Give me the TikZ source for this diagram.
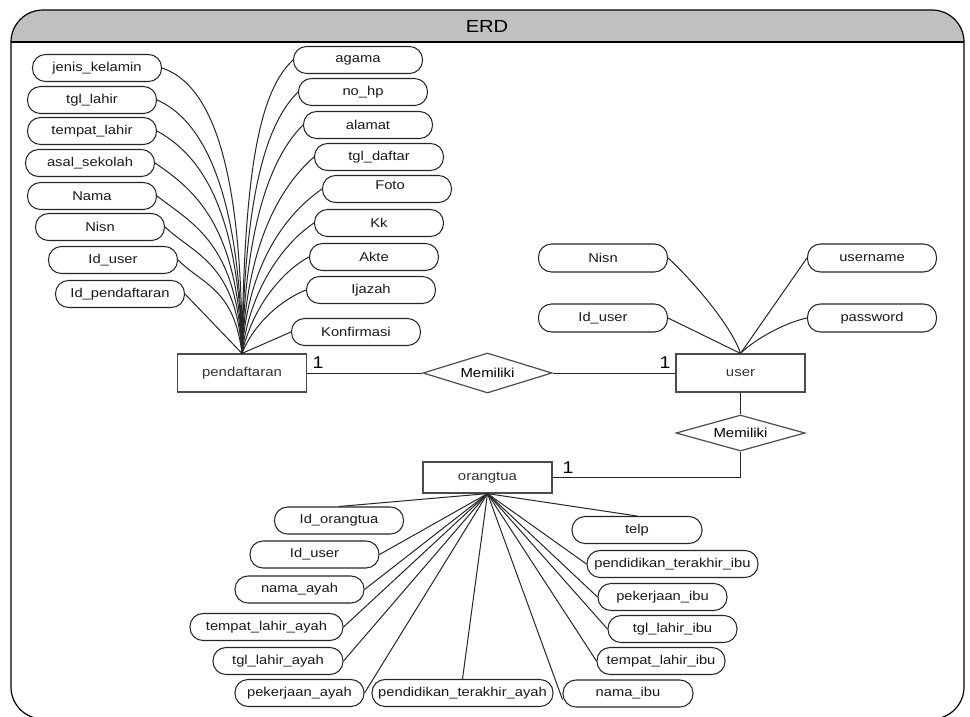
\documentclass[tikz,border=0pt]{standalone}
\usepackage{fontspec}
\setmainfont{Liberation Sans}[FakeStretch=1.15]
\usetikzlibrary{shapes.geometric}
\definecolor{hdr}{HTML}{C0C0C0}
\begin{document}
\begin{tikzpicture}[x=1pt,y=-1pt,
  attr/.style={draw=black!85, line width=1.05pt, rectangle, rounded corners=13pt,
    minimum width=129pt, minimum height=27pt, inner sep=0pt,
    font=\fontsize{12.8}{14}\selectfont, text=black!90},
  ent/.style={draw=black!70, line width=1.2pt, rectangle, minimum width=129pt,
    minimum height=38pt, inner sep=0pt, font=\fontsize{13}{15}\selectfont, text=black!80},
  rel/.style={draw=black!70, line width=1.2pt, diamond, aspect=3.2, minimum width=129pt,
    minimum height=40pt, inner sep=0pt, font=\fontsize{13}{15}\selectfont},
  conn/.style={draw=black!85, line width=1pt},
  card/.style={font=\fontsize{17}{19}\selectfont, inner sep=0pt}
]
\useasboundingbox (0,0) rectangle (970,716);
\fill[white] (0,0) rectangle (970,716);
% frame
\begin{scope}
\clip[rounded corners=32pt] (11,719) -- (11,10) -- (964,10) -- (964,719) -- cycle;
\fill[hdr] (0,0) rectangle (970,42);
\end{scope}
\draw[line width=1.2pt] (11,42) -- (964,42);
\draw[line width=1.2pt, rounded corners=32pt] (11,719) -- (11,10) -- (964,10) -- (964,719) -- cycle;
\node[font=\fontsize{17.5}{20}\selectfont] (title) at (487,26) {ERD};

% entities and relations
\node[ent] (pend) at (242,373) {pendaftaran};
\node[ent] (user) at (740.5,373) {user};
\node[ent, minimum height=31pt] (ot) at (487.5,477.5) {orangtua};
\node[rel] (rel1) at (487.5,373) {Memiliki};
\node[rel, minimum height=36pt] (rel2) at (740.5,433) {Memiliki};

\draw[conn] (pend.east) -- (rel1.west);
\draw[conn] (rel1.east) -- (user.west);
\draw[conn] (user.south) -- (rel2.north);
\draw[conn] (rel2.south) |- (ot.east);
\node[card] (c1) at (318,363) {1};
\node[card] (c2) at (665,363) {1};
\node[card] (c3) at (568,468) {1};

% pendaftaran attributes, left
\node[attr] (jk) at (97,68) {jenis\_kelamin};
\node[attr] (tgl) at (92,100) {tgl\_lahir};
\node[attr] (tl) at (92,131) {tempat\_lahir};
\node[attr] (as) at (90,163) {asal\_sekolah};
\node[attr] (nama) at (92,196) {Nama};
\node[attr] (nisn) at (100,227) {Nisn};
\node[attr] (idu) at (113,260) {Id\_user};
\node[attr] (idp) at (120,294) {Id\_pendaftaran};
% right
\node[attr] (agama) at (358,60) {agama};
\node[attr] (nohp) at (363,92) {no\_hp};
\node[attr] (alamat) at (368,125) {alamat};
\node[attr] (tgld) at (379,157) {tgl\_daftar};
\node[attr, text depth=7pt] (foto) at (387,189) {\hspace*{6pt}Foto};
\node[attr] (kk) at (379,223) {Kk};
\node[attr] (akte) at (374,257) {Akte};
\node[attr] (ijazah) at (371,290) {Ijazah};
\node[attr] (konf) at (356,332) {Konfirmasi};

\draw[conn] (jk.east) .. controls +(45,15) and +(0,-200) .. (pend.north);
\draw[conn] (tgl.east) .. controls +(42,18) and +(-2,-170) .. (pend.north);
\draw[conn] (tl.east) .. controls +(40,22) and +(-3,-150) .. (pend.north);
\draw[conn] (as.east) .. controls +(38,26) and +(-4,-130) .. (pend.north);
\draw[conn] (nama.east) .. controls +(36,28) and +(-5,-110) .. (pend.north);
\draw[conn] (nisn.east) .. controls +(30,28) and +(-6,-90) .. (pend.north);
\draw[conn] (idu.east) .. controls +(25,25) and +(-8,-65) .. (pend.north);
\draw[conn] (idp.east) -- (pend.north);
\draw[conn] (agama.west) .. controls +(-32,30) and +(2,-190) .. (pend.north);
\draw[conn] (nohp.west) .. controls +(-32,32) and +(3,-160) .. (pend.north);
\draw[conn] (alamat.west) .. controls +(-32,32) and +(4,-130) .. (pend.north);
\draw[conn] (tgld.west) .. controls +(-34,30) and +(5,-110) .. (pend.north);
\draw[conn] (foto.west) .. controls +(-36,25) and +(6,-90) .. (pend.north);
\draw[conn] (kk.west) .. controls +(-30,20) and +(8,-65) .. (pend.north);
\draw[conn] (akte.west) .. controls +(-28,15) and +(10,-45) .. (pend.north);
\draw[conn] (ijazah.west) .. controls +(-25,10) and +(12,-30) .. (pend.north);
\draw[conn] (konf.west) -- (pend.north);

% user attributes
\node[attr, minimum height=28pt] (unisn) at (603,258) {Nisn};
\node[attr, minimum height=28pt] (uid) at (603,318) {Id\_user};
\node[attr, minimum height=28pt] (uname) at (872,258) {username};
\node[attr, minimum height=28pt] (upass) at (872,318) {password};
\draw[conn] (unisn.east) .. controls +(20,18) and +(-10,-30) .. (user.north);
\draw[conn] (uid.east) -- (user.north);
\draw[conn] (uname.west) -- (user.north);
\draw[conn] (upass.west) .. controls +(-20,4) and +(15,-15) .. (user.north);

% orangtua attributes
\node[attr] (oid) at (339,520.5) {Id\_orangtua};
\node[attr] (ouid) at (314.5,554.5) {Id\_user};
\node[attr] (nay) at (299.5,589.5) {nama\_ayah};
\node[attr, minimum width=153pt] (tlay) at (266.5,627) {tempat\_lahir\_ayah};
\node[attr, minimum width=130pt] (tglay) at (278,661) {tgl\_lahir\_ayah};
\node[attr] (pkay) at (299.5,693) {pekerjaan\_ayah};
\node[attr, minimum width=181pt] (pta) at (462.5,693) {pendidikan\_terakhir\_ayah};
\node[attr, minimum width=130pt] (telp) at (637,530) {telp};
\node[attr, minimum width=171pt] (pti) at (672.5,564) {pendidikan\_terakhir\_ibu};
\node[attr] (pki) at (662.5,597) {pekerjaan\_ibu};
\node[attr] (tgli) at (672.5,629) {tgl\_lahir\_ibu};
\node[attr, minimum width=128pt] (tli) at (661,661) {tempat\_lahir\_ibu};
\node[attr, minimum width=130pt] (nai) at (628,693.5) {nama\_ibu};

\draw[conn] (oid.north) -- (ot.south);
\draw[conn] (ouid.east) -- (ot.south);
\draw[conn] (nay.east) -- (ot.south);
\draw[conn] (tlay.east) -- (ot.south);
\draw[conn] (tglay.east) -- (ot.south);
\draw[conn] (pkay.east) -- (ot.south);
\draw[conn] (pta.north) -- (ot.south);
\draw[conn] (telp.north) -- (ot.south);
\draw[conn] (pti.west) -- (ot.south);
\draw[conn] (pki.west) -- (ot.south);
\draw[conn] (tgli.west) -- (ot.south);
\draw[conn] (tli.west) -- (ot.south);
\draw[conn] ([yshift=-6pt]nai.west) -- (ot.south);
\end{tikzpicture}
\end{document}
